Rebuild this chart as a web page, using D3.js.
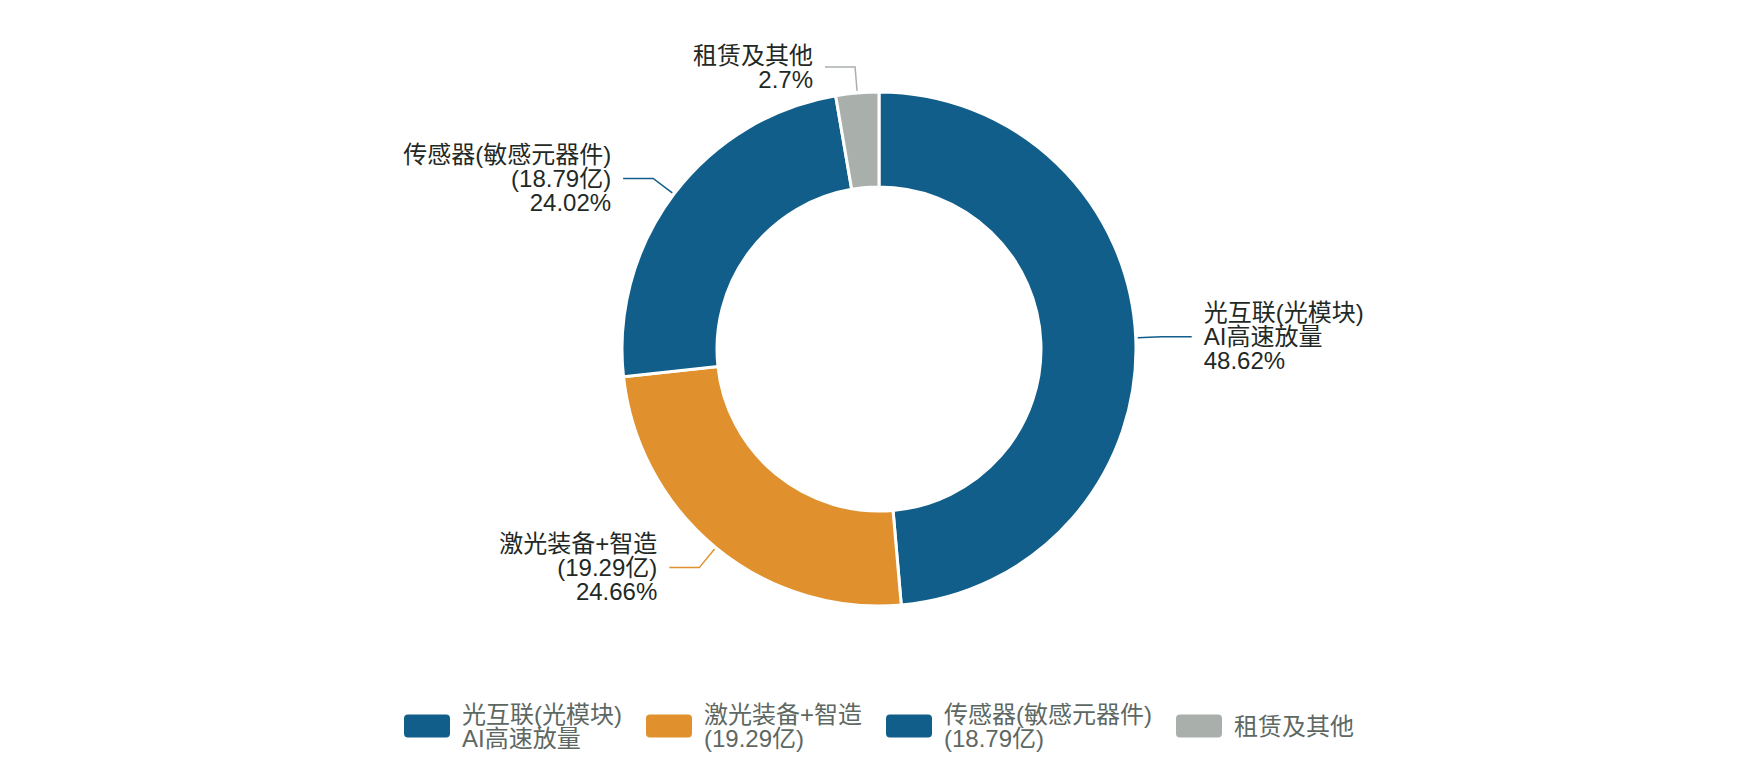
<!DOCTYPE html>
<html>
<head>
<meta charset="utf-8">
<script src="https://cdn.jsdelivr.net/npm/d3@7"></script>
<style>
  html, body { margin: 0; padding: 0; background: #ffffff; }
  svg { display: block; font-family: "Liberation Sans", "Noto Sans CJK SC", sans-serif; }
</style>
</head>
<body>
<svg id="chart" width="1760" height="760"></svg>
<script>
// ---- data ----
const categories = ["光互联(光模块)\nAI高速放量", "激光装备+智造\n(19.29亿)", "传感器(敏感元器件)\n(18.79亿)", "租赁及其他"];
const values = [38.03, 19.29, 18.79, 2.11];   // 亿元
const colors = ["#105e89", "#e0912d", "#105e89", "#a9b0ab"];

// ---- layout ----
const W = 1760, H = 760;
const cx = 879, cy = 349;
const outerR = 257, innerR = 162;
const fontSize = 24, lineH = 24;
const len1 = 26, len2 = 30, labelGap = 12;

const svg = d3.select("#chart");
const total = d3.sum(values);
const data = categories.map((c, i) => ({ name: c, value: values[i], color: colors[i] }));

const pie = d3.pie().value(d => d.value).sort(null).startAngle(0).endAngle(2 * Math.PI);
const arcs = pie(data);
const arc = d3.arc().innerRadius(innerR).outerRadius(outerR);

const g = svg.append("g").attr("transform", `translate(${cx},${cy})`);

g.selectAll("path.slice")
  .data(arcs)
  .join("path")
  .attr("class", "slice")
  .attr("d", arc)
  .attr("fill", d => d.data.color)
  .attr("stroke", "#ffffff")
  .attr("stroke-width", 3)
  .attr("stroke-linejoin", "round");

// ---- labels ----
const fmtPct = v => (+(v * 100).toFixed(2)) + "%";
arcs.forEach(a => {
  const mid = (a.startAngle + a.endAngle) / 2;
  const dx = Math.sin(mid), dy = -Math.cos(mid);
  const p0 = [dx * (outerR + 2), dy * (outerR + 2)];
  const p1 = [dx * (outerR + len1), dy * (outerR + len1)];
  const right = dx >= 0;
  const p2 = [p1[0] + (right ? len2 : -len2), p1[1]];
  g.append("polyline")
    .attr("points", [p0, p1, p2].map(p => p.join(",")).join(" "))
    .attr("fill", "none")
    .attr("stroke", a.data.color)
    .attr("stroke-width", 1.5);

  const lines = a.data.name.split("\n").concat([fmtPct(a.data.value / total)]);
  const tx = p2[0] + (right ? labelGap : -labelGap);
  const y0 = p2[1] - (lines.length - 1) * lineH / 2;
  const t = g.append("text")
    .attr("x", tx)
    .attr("text-anchor", right ? "start" : "end")
    .attr("font-size", fontSize)
    .attr("fill", "#1f2925");
  lines.forEach((ln, i) => {
    t.append("tspan")
      .attr("x", tx)
      .attr("y", y0 + i * lineH)
      .attr("dominant-baseline", "central")
      .text(ln);
  });
});

// ---- legend ----
const legendY = 726;
const swW = 46, swH = 23, swGap = 12, itemGap = 24;
const legend = svg.append("g");
const items = data.map(d => {
  const gi = legend.append("g");
  gi.append("rect")
    .attr("width", swW).attr("height", swH)
    .attr("y", legendY - swH / 2)
    .attr("rx", 4).attr("ry", 4)
    .attr("fill", d.color);
  const lines = d.name.split("\n");
  const t = gi.append("text")
    .attr("font-size", fontSize)
    .attr("fill", "#5e6863");
  const y0 = legendY - (lines.length - 1) * lineH / 2;
  lines.forEach((ln, i) => {
    t.append("tspan")
      .attr("x", swW + swGap)
      .attr("y", y0 + i * lineH)
      .attr("dominant-baseline", "central")
      .text(ln);
  });
  const w = swW + swGap + t.node().getBBox().width;
  return { gi, w };
});
const totalW = d3.sum(items, d => d.w) + itemGap * (items.length - 1);
let x = cx - totalW / 2;
items.forEach(it => {
  it.gi.attr("transform", `translate(${x},0)`);
  x += it.w + itemGap;
});
</script>
</body>
</html>
